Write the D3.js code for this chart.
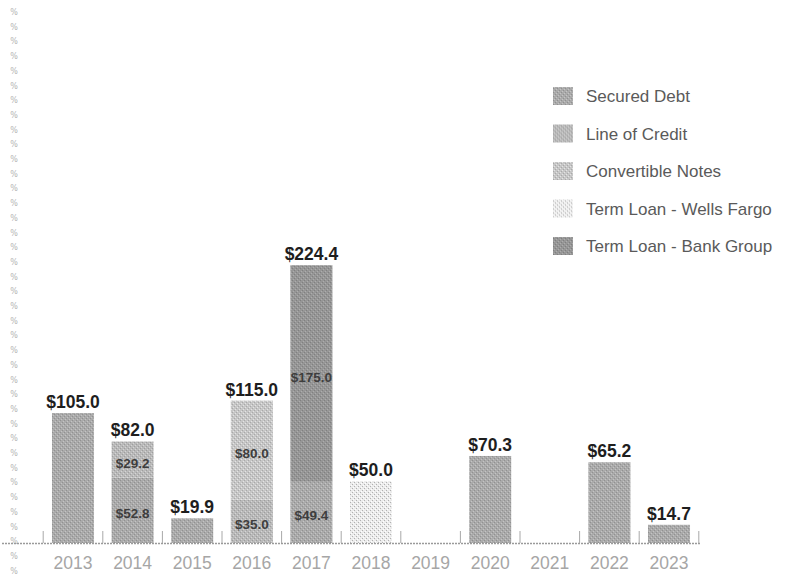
<!DOCTYPE html>
<html lang="en">
<head>
    <meta charset="UTF-8">
    <title>Debt Maturities</title>
    <script src="https://d3js.org/d3.v7.min.js"></script>
    <style>
        body { margin: 0; background: #fff; }
        .total { font: bold 17.5px "Liberation Sans", Arial, sans-serif; fill: #1e1e1e; }
        .seg { font: bold 13.5px "Liberation Sans", Arial, sans-serif; fill: #3e3e3e; }
        .year { font: 17.5px "Liberation Sans", Arial, sans-serif; fill: #a6a6a6; }
        .legend text { font: 17px "Liberation Sans", Arial, sans-serif; fill: #5a5a5a; }
        .edge { font: 8px "DejaVu Sans", sans-serif; fill: #b4b4b4; }
    </style>
</head>
<body>
<div id="chart"></div>

<script>
    // values in $ millions
    var years = ["2013", "2014", "2015", "2016", "2017", "2018", "2019", "2020", "2021", "2022", "2023"];
    var seriesNames = ["Secured Debt", "Line of Credit", "Convertible Notes", "Term Loan - Wells Fargo", "Term Loan - Bank Group"];
    var securedDebt    = [105.0, 52.8, 19.9, 0, 49.4, 0, 0, 70.3, 0, 65.2, 14.7];
    var lineOfCredit   = [0, 29.2, 0, 35.0, 0, 0, 0, 0, 0, 0, 0];
    var convertible    = [0, 0, 0, 80.0, 0, 0, 0, 0, 0, 0, 0];
    var wellsFargo     = [0, 0, 0, 0, 0, 50.0, 0, 0, 0, 0, 0];
    var bankGroup      = [0, 0, 0, 0, 175.0, 0, 0, 0, 0, 0, 0];
    var colors = ["#aaaaaa", "#b9b9b9", "#c6c6c6", "#ececec", "#969696"];

    var width = 787, height = 577;

    var rows = years.map(function(y, i) {
        return {
            year: y,
            "Secured Debt": securedDebt[i],
            "Line of Credit": lineOfCredit[i],
            "Convertible Notes": convertible[i],
            "Term Loan - Wells Fargo": wellsFargo[i],
            "Term Loan - Bank Group": bankGroup[i]
        };
    });

    var svg = d3.select("#chart").append("svg")
        .attr("width", width)
        .attr("height", height);

    // grainy fills, like the scanned original
    var defs = svg.append("defs");
    colors.forEach(function(c, i) {
        var p = defs.append("pattern")
            .attr("id", "fill" + i)
            .attr("width", 4).attr("height", 4)
            .attr("patternUnits", "userSpaceOnUse");
        p.append("rect").attr("width", 4).attr("height", 4).attr("fill", c);
        var dark = d3.color(c).darker(0.45), light = d3.color(c).brighter(0.4);
        if (i === 3) { dark = d3.color(c).darker(0.8); light = "#fff"; }
        p.append("rect").attr("x", 0).attr("y", 0).attr("width", 1).attr("height", 1).attr("fill", dark);
        p.append("rect").attr("x", 2).attr("y", 2).attr("width", 1).attr("height", 1).attr("fill", dark);
        p.append("rect").attr("x", 1).attr("y", 3).attr("width", 1).attr("height", 1).attr("fill", light);
        p.append("rect").attr("x", 3).attr("y", 1).attr("width", 1).attr("height", 1).attr("fill", light);
    });

    var x = d3.scaleBand()
        .domain(years)
        .range([43.2, 698.8])
        .paddingInner(0.295)
        .paddingOuter(0.1475);

    var y = d3.scaleLinear()
        .domain([0, 250])
        .range([543, 233.5]);

    var stack = d3.stack().keys(seriesNames);
    var layers = stack(rows);

    // faint marks along the left edge
    svg.append("g").selectAll("text")
        .data(d3.range(15, 577, 14.7))
        .join("text")
        .attr("class", "edge")
        .attr("x", 14)
        .attr("y", function(d) { return d; })
        .attr("text-anchor", "middle")
        .text("%");

    // axis line and ticks between bars
    svg.append("line")
        .attr("x1", 2).attr("x2", 700)
        .attr("y1", y(0) + 0.5).attr("y2", y(0) + 0.5)
        .attr("stroke", "#9a9a9a")
        .attr("stroke-width", 1.5)
        .attr("stroke-dasharray", "2,1");

    var tickX = years.map(function(d) { return x(d) - x.step() * x.paddingInner() / 2; });
    tickX.push(x(years[years.length - 1]) + x.bandwidth() + x.step() * x.paddingInner() / 2);
    svg.append("g").selectAll("line")
        .data(tickX)
        .join("line")
        .attr("x1", function(d) { return d; })
        .attr("x2", function(d) { return d; })
        .attr("y1", y(0) - 12)
        .attr("y2", y(0))
        .attr("stroke", "#a8a8a8")
        .attr("stroke-width", 1);

    // bars
    svg.append("g").selectAll("g")
        .data(layers)
        .join("g")
        .attr("fill", function(d, i) { return "url(#fill" + i + ")"; })
        .selectAll("rect")
        .data(function(d) { return d.filter(function(s) { return s[1] - s[0] > 0; }); })
        .join("rect")
        .attr("x", function(d) { return x(d.data.year); })
        .attr("y", function(d) { return y(d[1]); })
        .attr("width", x.bandwidth())
        .attr("height", function(d) { return y(d[0]) - y(d[1]); });

    // labels inside split bars
    var segCount = rows.map(function(r) {
        return seriesNames.filter(function(k) { return r[k] > 0; }).length;
    });
    var segs = [];
    layers.forEach(function(layer) {
        layer.forEach(function(s, i) {
            if (s[1] - s[0] > 0 && segCount[i] > 1) segs.push(s);
        });
    });
    svg.append("g").selectAll("text")
        .data(segs)
        .join("text")
        .attr("class", "seg")
        .attr("x", function(d) { return x(d.data.year) + x.bandwidth() / 2; })
        .attr("y", function(d) { return (y(d[0]) + y(d[1])) / 2 + 8; })
        .attr("text-anchor", "middle")
        .text(function(d) { return "$" + (d[1] - d[0]).toFixed(1); });

    // totals on top
    var totals = rows.map(function(r) {
        return { year: r.year, total: d3.sum(seriesNames, function(k) { return r[k]; }) };
    }).filter(function(d) { return d.total > 0; });

    svg.append("g").selectAll("text")
        .data(totals)
        .join("text")
        .attr("class", "total")
        .attr("x", function(d) { return x(d.year) + x.bandwidth() / 2; })
        .attr("y", function(d) { return y(d.total) - 5; })
        .attr("text-anchor", "middle")
        .text(function(d) { return "$" + d.total.toFixed(1); });

    // year labels
    svg.append("g").selectAll("text")
        .data(years)
        .join("text")
        .attr("class", "year")
        .attr("x", function(d) { return x(d) + x.bandwidth() / 2; })
        .attr("y", 569)
        .attr("text-anchor", "middle")
        .text(function(d) { return d; });

    // legend
    var legend = svg.append("g").attr("class", "legend")
        .selectAll("g")
        .data(seriesNames)
        .join("g")
        .attr("transform", function(d, i) { return "translate(553," + (96 + i * 37.5) + ")"; });

    legend.append("rect")
        .attr("x", 0).attr("y", -9)
        .attr("width", 20).attr("height", 18)
        .attr("fill", function(d, i) { return "url(#fill" + i + ")"; });

    legend.append("text")
        .attr("x", 33)
        .attr("y", 6)
        .text(function(d) { return d; });
</script>
</body>
</html>
